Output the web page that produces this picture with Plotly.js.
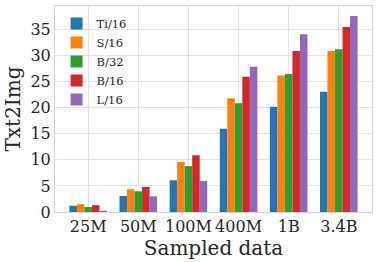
<!DOCTYPE html>
<html><head><meta charset="utf-8">
<script src="https://cdn.plot.ly/plotly-3.0.1.min.js"></script>
<style>html,body{margin:0;padding:0;background:#fff}#c{width:378px;height:262px}</style>
</head><body><div id="c"></div>
<script>
const categories = ["25M", "50M", "100M", "400M", "1B", "3.4B"];
const seriesNames = ["Ti/16", "S/16", "B/32", "B/16", "L/16"];
const ti16 = [1.2, 3.07, 6.08, 15.98, 20.2, 23.07];
const s16  = [1.5, 4.35, 9.6, 21.8, 26.15, 30.88];
const b32  = [0.95, 3.97, 8.8, 20.85, 26.47, 31.2];
const b16  = [1.3, 4.8, 10.87, 25.95, 30.88, 35.48];
const l16  = [0.25, 3.0, 5.95, 27.87, 34.07, 37.6];
const colors = ["#1f77b4", "#ff7f0e", "#2ca02c", "#d62728", "#9467bd"];
const series = [ti16, s16, b32, b16, l16];

const traces = series.map((v, i) => ({
  type: "bar", x: categories, y: v, name: seriesNames[i],
  marker: {color: colors[i], line: {width: 0}}
}));

const axisFont = {family: "DejaVu Serif", size: 16, color: "#262626"};
const titleFont = {family: "DejaVu Serif", size: 20, color: "#262626"};
Plotly.newPlot("c", traces, {
  width: 378, height: 262,
  margin: {l: 55, r: 6, t: 6, b: 50},
  paper_bgcolor: "#fff", plot_bgcolor: "#fff",
  barmode: "group", bargap: 0.25, bargroupgap: 0,
  font: {family: "DejaVu Serif", color: "#262626"},
  xaxis: {
    type: "category", range: [-0.6625, 5.6625],
    tickfont: axisFont, ticks: "", showgrid: true, gridcolor: "#e3e3e3", gridwidth: 1,
    showline: true, linecolor: "#d6d6d6", linewidth: 1, mirror: true,
    title: {text: "Sampled data", font: titleFont, standoff: 2},
    automargin: false
  },
  yaxis: {
    range: [0, 39.5], dtick: 5, tickfont: axisFont, ticks: "",
    showgrid: true, gridcolor: "#e3e3e3", gridwidth: 1, zeroline: false,
    showline: true, linecolor: "#d6d6d6", linewidth: 1, mirror: true,
    title: {text: "Txt2Img", font: titleFont, standoff: 4},
    automargin: false
  },
  legend: {
    x: 0.005, y: 0.985, xanchor: "left", yanchor: "top",
    bgcolor: "rgba(255,255,255,0)", borderwidth: 0,
    font: {family: "DejaVu Serif", size: 11.5, color: "#262626"},
    itemwidth: 30, tracegroupgap: 0
  },
  showlegend: true
}, {staticPlot: true, displayModeBar: false});
</script></body></html>
